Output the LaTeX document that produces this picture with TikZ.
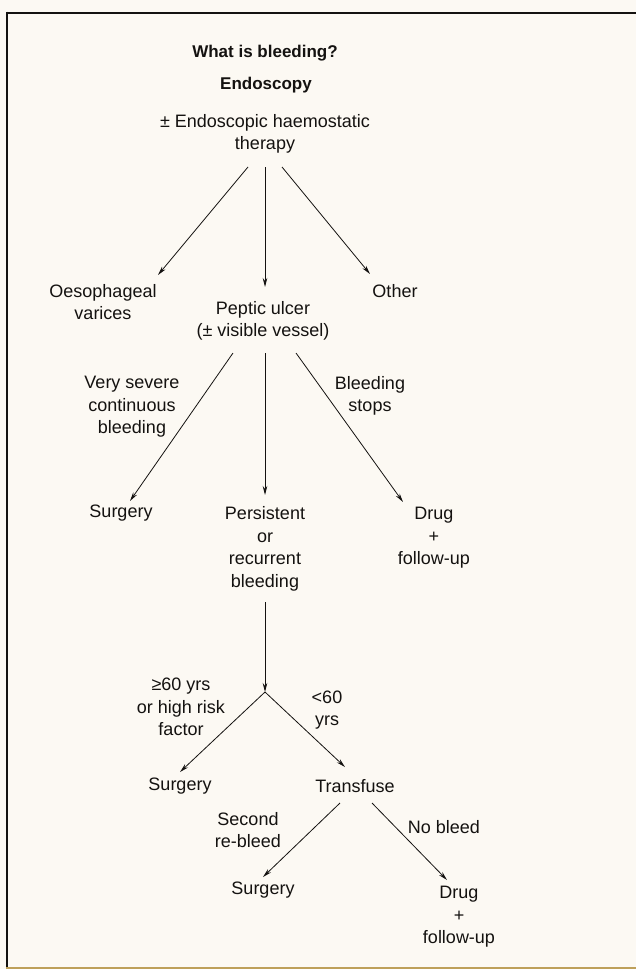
\documentclass[tikz,border=0pt]{standalone}
\usepackage{fontspec}
\setmainfont{Liberation Sans}
\usetikzlibrary{arrows.meta}
\definecolor{paper}{RGB}{252,249,243}
\definecolor{ink}{RGB}{20,18,16}
\definecolor{edge}{RGB}{190,160,90}
\begin{document}
\begin{tikzpicture}[x=1pt,y=-1pt,
  txt/.style={inner sep=0pt,align=center,text=ink,font=\fontsize{18}{22.5}\selectfont},
  ttl/.style={inner sep=0pt,align=center,text=ink,font=\fontsize{17}{21}\selectfont\bfseries},
  arr/.style={draw=ink,line width=0.8pt,-{Stealth[length=9pt,width=4.5pt]}},
  ln/.style={draw=ink,line width=0.8pt}]
\fill[paper] (0,0) rectangle (636,969);
\useasboundingbox (0,0) rectangle (636,969);
% frame
\draw[ink,line width=2pt] (7,12.5) -- (636,12.5);
\draw[ink,line width=2pt] (7,11.5) -- (7,967);
\draw[edge,line width=2pt] (6,967.5) -- (636,967.5);
% nodes
\node[ttl] (q) at (265,53) {What is bleeding?};
\node[ttl] (endo) at (266,85) {Endoscopy};
\node[txt] (top) at (265,134) {± Endoscopic haemostatic\\therapy};
\node[txt] (oes) at (103,302) {Oesophageal\\varices};
\node[txt] (other) at (395,291) {Other};
\node[txt] (pep) at (263,321) {Peptic ulcer\\(± visible vessel)};
\node[txt] (lab1) at (132,407) {Very severe\\continuous\\bleeding};
\node[txt] (lab2) at (370,396) {Bleeding\\stops};
\node[txt] (surg1) at (121,513) {Surgery};
\node[txt] (pers) at (265,549) {Persistent\\or\\recurrent\\bleeding};
\node[txt] (drug1) at (434,538) {Drug\\+\\follow-up};
\coordinate (J) at (265,692);
\node[txt] (lab3) at (181,707) {≥60 yrs\\or high risk\\factor};
\node[txt] (lab4) at (327,710) {<60\\yrs};
\node[txt] (surg2) at (180,786) {Surgery};
\node[txt] (trans) at (355,786) {Transfuse};
\node[txt] (lab5) at (248,830) {Second\\re-bleed};
\node[txt] (lab6) at (444,827) {No bleed};
\node[txt] (surg3) at (263,890) {Surgery};
\node[txt] (drug2) at (459,917) {Drug\\+\\follow-up};
% connectors
\draw[arr] ([shift={(-17,33)}]top.center) -- ([shift={(55,-27)}]oes.center);
\draw[arr] ([shift={(0,33)}]top.center) -- ([shift={(2,-34)}]pep.center);
\draw[arr] ([shift={(17,33)}]top.center) -- ([shift={(-25,-17)}]other.center);
\draw[arr] ([shift={(-30,32)}]pep.center) -- ([shift={(9,-12)}]surg1.center);
\draw[arr] ([shift={(2,32)}]pep.center) -- ([shift={(0,-54)}]pers.center);
\draw[arr] ([shift={(33,32)}]pep.center) -- ([shift={(-31,-36)}]drug1.center);
\draw[arr] ([shift={(0,53)}]pers.center) -- (J);
\draw[arr] (J) -- ([shift={(0,-14)}]surg2.center);
\draw[arr] (J) -- ([shift={(-10,-19)}]trans.center);
\draw[arr] ([shift={(-15,17)}]trans.center) -- ([shift={(0,-13)}]surg3.center);
\draw[arr] ([shift={(17,17)}]trans.center) -- ([shift={(-12,-37)}]drug2.center);
\end{tikzpicture}
\end{document}
